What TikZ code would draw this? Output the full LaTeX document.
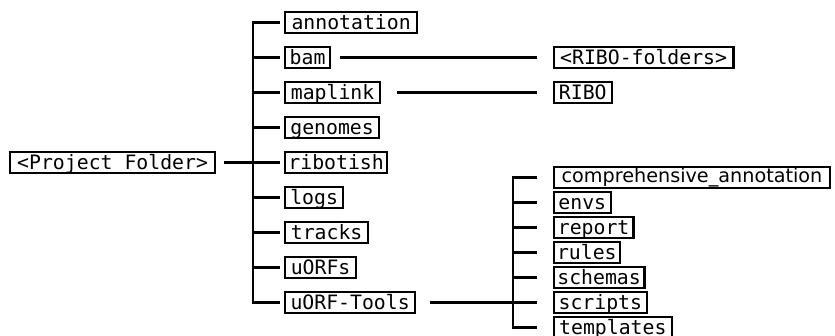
\documentclass[tikz,border=0pt]{standalone}
\usepackage{fontspec}
\setmainfont{DejaVu Sans}
\setmonofont{DejaVu Sans Mono}
\begin{document}
\begin{tikzpicture}[x=1pt,y=-1pt,line width=2.2pt,
  fbox/.style={draw, line width=2.2pt, anchor=west,
    font=\ttfamily\fontsize{19.8}{23}\selectfont,
    inner xsep=2pt, inner ysep=1pt, text height=16.5pt, text depth=2.5pt,
    minimum height=21.5pt},
  rbox/.style={fbox, minimum height=20.5pt},
  conn/.style={line width=2.2pt}]
\useasboundingbox (0,0) rectangle (835,335);
% root
\node[fbox, minimum width=205] (proj) at (9,162.5) {<Project Folder>};
% first level
\node[fbox, minimum width=132] (annotation) at (284,22.5)  {annotation};
\node[fbox, minimum width=45]  (bam)        at (284,57.5)  {bam};
\node[fbox, minimum width=95]  (maplink)    at (284,92.5)  {maplink};
\node[fbox, minimum width=94]  (genomes)    at (284,127.5) {genomes};
\node[fbox, minimum width=102] (ribotish)   at (284,162.5) {ribotish};
\node[fbox, minimum width=58]  (logs)       at (284,197.5) {logs};
\node[fbox, minimum width=83]  (tracks)     at (284,232.5) {tracks};
\node[fbox, minimum width=71]  (uORFs)      at (284,267.5) {uORFs};
\node[fbox, minimum width=130] (uORFTools)  at (284,302.5) {uORF-Tools};
% second level
\node[fbox, minimum width=179.6] (ribofolders) at (552.7,57.5) {<RIBO-folders>};
\node[fbox, minimum width=58]    (RIBO)        at (552.7,92.5) {RIBO};
\node[rbox, minimum width=276.3, font=\fontsize{19.2}{23}\selectfont,
      inner ysep=0.4pt, text height=15.2pt, text depth=4.9pt] (comp) at (552.7,177.5) {comprehensive\_annotation};
\node[rbox, minimum width=57]    (envs)      at (552.7,202.5) {envs};
\node[rbox, minimum width=79.6]  (report)    at (552.7,227.5) {report};
\node[rbox, minimum width=66]    (rules)     at (552.7,252.5) {rules};
\node[rbox, minimum width=90.6]  (schemas)   at (552.7,277.5) {schemas};
\node[rbox, minimum width=93]    (scripts)   at (552.7,302.5) {scripts};
\node[rbox, minimum width=118]   (templates) at (552.7,327.5) {templates};
% trunks
\coordinate (t1) at (253.3,162.5);
\coordinate (t2) at (513.3,302.5);
\draw[conn] ([xshift=-4.5]annotation.west) -- (t1 |- annotation.west) -- (t1 |- uORFTools.west) -- ([xshift=-4.5]uORFTools.west);
\foreach \n in {bam,maplink,genomes,ribotish,logs,tracks,uORFs}
  \draw[conn] (t1 |- \n.west) -- ([xshift=-4.5]\n.west);
\draw[conn] ([xshift=8]proj.east) -- (t1);
\draw[conn] ([xshift=9]bam.east) -- ([xshift=-16]ribofolders.west);
\draw[conn] ([xshift=16]maplink.east) -- ([xshift=-16]RIBO.west);
\draw[conn] ([xshift=14]uORFTools.east) -- (t2 |- uORFTools.east);
\draw[conn] ([xshift=-15.4]comp.west) -- (t2 |- comp.west) -- (t2 |- templates.west) -- ([xshift=-15.4]templates.west);
\foreach \n in {envs,report,rules,schemas,scripts}
  \draw[conn] (t2 |- \n.west) -- ([xshift=-15.4]\n.west);
\end{tikzpicture}
\end{document}
